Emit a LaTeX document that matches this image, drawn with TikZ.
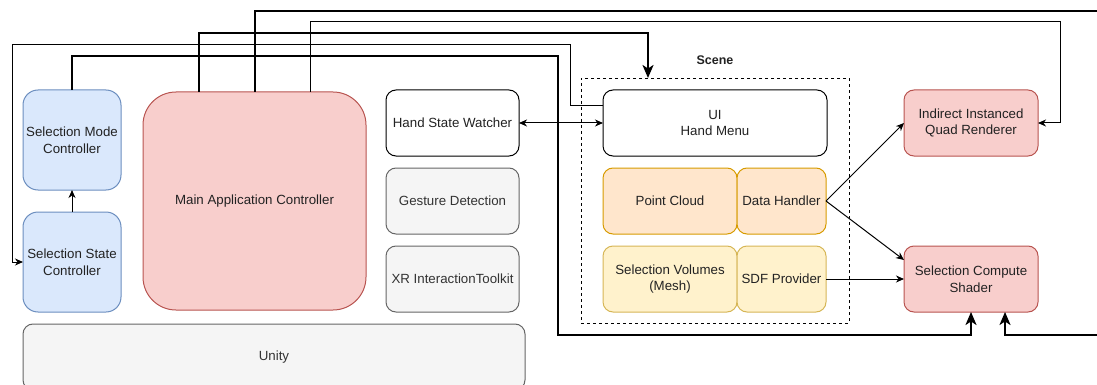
\documentclass[tikz,border=0pt]{standalone}
\usepackage{fontspec}
\setmainfont{Liberation Sans}
\usetikzlibrary{arrows.meta,calc}
\definecolor{bluef}{HTML}{DAE8FC}\definecolor{blues}{HTML}{6C8EBF}
\definecolor{redf}{HTML}{F8CECC}\definecolor{reds}{HTML}{B85450}
\definecolor{grayf}{HTML}{F5F5F5}\definecolor{grays}{HTML}{666666}
\definecolor{orf}{HTML}{FFE6CC}\definecolor{ors}{HTML}{D79B00}
\definecolor{yef}{HTML}{FFF2CC}\definecolor{yes}{HTML}{D6B656}
\definecolor{txt}{HTML}{222222}\definecolor{gtxt}{HTML}{333333}
\begin{document}
\begin{tikzpicture}[x=1pt,y=-1pt,
  box/.style={draw, rounded corners=10pt, inner sep=0pt, outer sep=0pt, align=center,
    font=\fontsize{13.3}{16.5}\selectfont, text=txt, line width=1pt},
  bluebox/.style={box, fill=bluef, draw=blues, rounded corners=15pt, minimum width=98pt, minimum height=100pt},
  redbox/.style={box, fill=redf, draw=reds},
  graybox/.style={box, fill=grayf, draw=grays, text=gtxt},
  whitebox/.style={box, fill=white, draw=black},
  orbox/.style={box, fill=orf, draw=ors},
  yebox/.style={box, fill=yef, draw=yes},
  thinarr/.style={line width=1pt, -{Stealth[length=8pt,width=7pt,inset=2.5pt]}},
  thinboth/.style={line width=1pt, {Stealth[length=8pt,width=7pt,inset=2.5pt]}-{Stealth[length=8pt,width=7pt,inset=2.5pt]}},
  thinline/.style={line width=1pt},
  thickarr/.style={line width=2pt, -{Stealth[length=13pt,width=11pt,inset=3.5pt]}},
]
\useasboundingbox (0,0) rectangle (1097,385);
\clip (0,0) rectangle (1097,385);

% nodes
\node[bluebox] (smc) at (72,140) {Selection Mode\\Controller};
\node[bluebox] (ssc) at (72,262) {Selection State\\Controller};
\node[redbox, rounded corners=33pt, minimum width=223pt, minimum height=218pt] (main) at (254.5,201) {Main Application Controller};
\node[whitebox, minimum width=133pt, minimum height=66pt] (hsw) at (452.5,123) {Hand State Watcher};
\node[graybox, minimum width=133pt, minimum height=66pt] (gd) at (452.5,201) {Gesture Detection};
\node[graybox, minimum width=133pt, minimum height=66pt] (xr) at (452.5,279) {XR InteractionToolkit};
\node[graybox, minimum width=502pt, minimum height=66pt] (unity) at (274,357) {Unity};

\node[draw, dashed, line width=0.8pt, minimum width=268pt, minimum height=245pt, inner sep=0pt, outer sep=0pt] (scene) at (715,200.5) {};
\node[font=\fontsize{12.5}{15}\selectfont\bfseries, text=txt] (scenelbl) at (715,60) {Scene};

\node[whitebox, minimum width=224pt, minimum height=66pt] (ui) at (715,123) {UI\\Hand Menu};
\node[orbox, minimum width=134pt, minimum height=66pt] (pc) at (670,201) {Point Cloud};
\node[orbox, minimum width=89pt, minimum height=66pt] (dh) at (781.5,201) {Data Handler};
\node[yebox, minimum width=134pt, minimum height=66pt] (sv) at (670,279) {Selection Volumes\\(Mesh)};
\node[yebox, minimum width=89pt, minimum height=66pt] (sdf) at (781.5,279) {SDF Provider};
\node[redbox, minimum width=134pt, minimum height=66pt] (iiqr) at (971,123) {Indirect Instanced\\Quad Renderer};
\node[redbox, minimum width=134pt, minimum height=66pt] (scs) at (971,279) {Selection Compute\\Shader};

% coordinates for routing
\coordinate (r1) at (1105,11);
\coordinate (r2) at (1105,335);
\coordinate (q1) at (1060,22);
\coordinate (p1) at (648,33);
\coordinate (u1) at (12,45);
\coordinate (m1) at (558,56);
\coordinate (m2) at (558,335);

% connectors
\draw[thickarr] (main.north) |- (r1) -- (r2) -| ($(scs.south)+(34,0)$);
\draw[thinarr] ($(main.north)+(55.75,0)$) |- (q1) |- (iiqr.east);
\draw[thickarr] ($(main.north)+(-55.75,0)$) |- (p1) -| ($(scene.north west)+(67,0)$);
\draw[thinarr] ($(ui.west)+(0,-17)$) -- ++(-33,0) |- (u1) |- (ssc.west);
\draw[thickarr] (smc.north) |- (m1) -- (m2) -| (scs.south);
\draw[thinboth] (hsw.east) -- (ui.west);
\draw[thinarr] (ssc.north) -- (smc.south);
\draw[thinarr] (dh.east) -- (iiqr.west);
\draw[thinarr] (dh.east) -- ($(scs.west)+(0,-19)$);
\draw[thinarr] (sdf.east) -- (scs.west);
\end{tikzpicture}
\end{document}
